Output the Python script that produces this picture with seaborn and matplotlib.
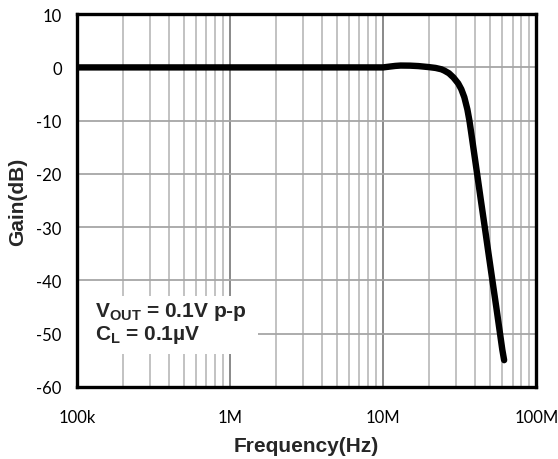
import numpy as np
import pandas as pd
import matplotlib
matplotlib.use("Agg")
import matplotlib.pyplot as plt
from matplotlib.patches import Rectangle
from matplotlib.ticker import FixedLocator, LogLocator, NullFormatter
import seaborn as sns

# -------------------------
# Data
# -------------------------
freq_hz = [1e5, 1e6, 1e7, 1.1e7, 1.2e7, 1.3e7, 1.5e7, 1.7e7, 2.0e7, 2.2e7,
           2.4e7, 2.51e7, 2.69e7, 2.88e7, 3.09e7, 3.24e7, 3.39e7, 3.55e7,
           3.66e7, 3.77e7, 3.88e7, 4.11e7, 4.35e7, 4.61e7, 4.88e7, 5.17e7,
           5.48e7, 5.80e7, 6.0e7, 6.17e7]
gain_db = [0.0, 0.0, 0.0, 0.15, 0.28, 0.35, 0.33, 0.25, 0.05, -0.1,
           -0.35, -0.6, -1.1, -1.9, -3.0, -4.1, -5.6, -7.9,
           -10.0, -12.5, -15.0, -20.0, -25.0, -30.0, -35.0, -40.0,
           -45.0, -50.0, -53.0, -55.0]

x_ticks = [1e5, 1e6, 1e7, 1e8]
x_tick_labels = ["100k", "1M", "10M", "100M"]
y_ticks = [-60, -50, -40, -30, -20, -10, 0, 10]

note_lines = ["V$_{OUT}$ = 0.1V p-p", "C$_{L}$ = 0.1\u00b5V"]

df = pd.DataFrame({"freq": freq_hz, "gain": gain_db})

# -------------------------
# Style
# -------------------------
sns.set_style("white")
plt.rcParams["font.family"] = ["Liberation Sans", "DejaVu Sans"]
plt.rcParams["axes.unicode_minus"] = False
plt.rcParams["mathtext.fontset"] = "custom"
plt.rcParams["mathtext.rm"] = "Liberation Sans:bold"
plt.rcParams["mathtext.it"] = "Liberation Sans:bold"
plt.rcParams["mathtext.bf"] = "Liberation Sans:bold"

fig = plt.figure(figsize=(5.58, 4.60), dpi=100)
ax = fig.add_axes([0.138, 0.157, 0.823, 0.810])

sns.lineplot(data=df, x="freq", y="gain", ax=ax, color="black",
             linewidth=4.6, solid_capstyle="round", solid_joinstyle="round",
             zorder=5)

ax.set_xscale("log")
ax.set_xlim(1e5, 1e8)
ax.set_ylim(-60, 10)

ax.xaxis.set_major_locator(FixedLocator(x_ticks))
ax.set_xticklabels(x_tick_labels)
ax.xaxis.set_minor_locator(LogLocator(base=10, subs=np.arange(2, 10)))
ax.xaxis.set_minor_formatter(NullFormatter())
ax.set_yticks(y_ticks)

ax.grid(which="major", axis="x", color="#808080", linewidth=1.3, zorder=0)
ax.grid(which="minor", axis="x", color="#bdbdbd", linewidth=1.3, zorder=0)
ax.grid(which="major", axis="y", color="#a6a6a6", linewidth=1.3, zorder=0)
ax.set_axisbelow(True)

ax.tick_params(which="both", length=0, labelsize=12, colors="black")
ax.tick_params(axis="x", pad=16)
ax.tick_params(axis="y", pad=11)
for lab in ax.get_xticklabels() + ax.get_yticklabels():
    lab.set_family(["Lato", "DejaVu Sans"])

for sp in ax.spines.values():
    sp.set_visible(True)
    sp.set_color("black")
    sp.set_linewidth(2.4)
    sp.set_zorder(7)

ax.set_xlabel("Frequency(Hz)", fontsize=15, fontweight="bold", labelpad=8)
ax.set_ylabel("Gain(dB)", fontsize=15, fontweight="bold", labelpad=7)

# white patch behind the note, like the reference
ax.add_patch(Rectangle((0.0, 0.088), 0.394, 0.156, transform=ax.transAxes,
                       facecolor="white", edgecolor="none", zorder=4))
ax.text(0.039, 0.172, "\n".join(note_lines), transform=ax.transAxes,
        fontsize=15, fontweight="bold", va="center", ha="left",
        linespacing=1.05, zorder=6)

fig.savefig("out.png", dpi=100)
